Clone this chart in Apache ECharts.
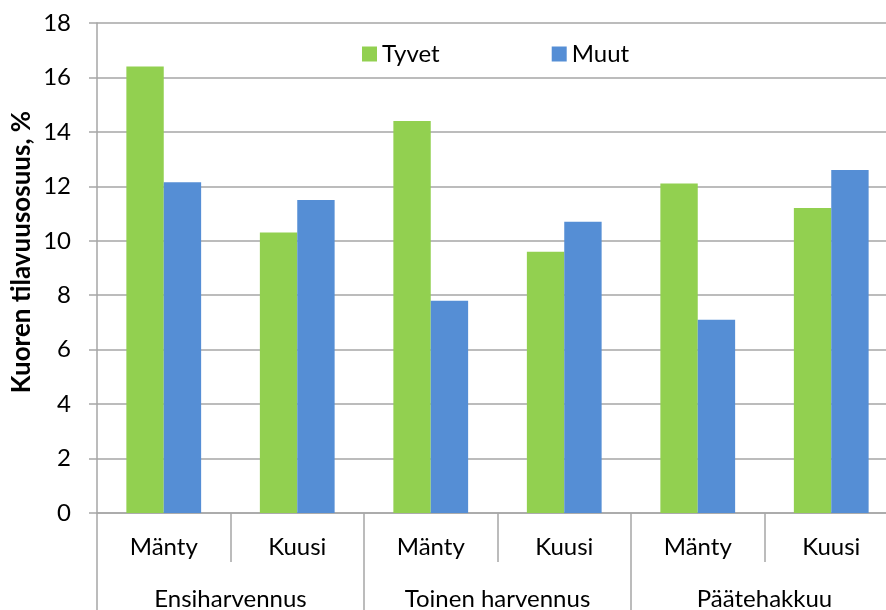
<!DOCTYPE html>
<html>
<head>
<meta charset="utf-8">
<script src="https://cdn.jsdelivr.net/npm/echarts@6/dist/echarts.min.js"></script>
<style>
  html, body { margin: 0; padding: 0; background: #fff; }
  #chart { width: 886px; height: 610px; }
</style>
</head>
<body>
<div id="chart"></div>
<script>
var subCategories = ['Mänty', 'Kuusi', 'Mänty', 'Kuusi', 'Mänty', 'Kuusi'];
var groups = ['Ensiharvennus', 'Toinen harvennus', 'Päätehakkuu'];
var tyvet = [16.4, 10.3, 14.4, 9.6, 12.1, 11.2];
var muut = [12.15, 11.5, 7.8, 10.7, 7.1, 12.6];
var yTicks = [0, 18, 2]; // min, max, step

var font = 'Lato, "Open Sans", sans-serif';
var gridColor = '#a6a6a6';
var fs = 24;

var chart = echarts.init(document.getElementById('chart'));

var option = {
    backgroundColor: '#fff',
    animation: false,
    textStyle: { fontFamily: font },
    grid: {
        left: 97,
        top: 23,
        right: -12,
        bottom: 97,
        containLabel: false,
        outerBoundsMode: 'none'
    },
    legend: {
        left: 357,
        top: 37,
        icon: 'rect',
        itemWidth: 15,
        itemHeight: 15,
        itemGap: 112,
        textStyle: { fontSize: fs, color: '#000', fontFamily: font },
        data: ['Tyvet', 'Muut']
    },
    graphic: [{
        type: 'text',
        x: 22,
        y: 252,
        rotation: Math.PI / 2,
        style: {
            text: 'Kuoren tilavuusosuus, %',
            fontSize: 26,
            fontWeight: 'bold',
            fontFamily: font,
            fill: '#000',
            textAlign: 'center',
            textVerticalAlign: 'middle'
        }
    }],
    xAxis: [{
        type: 'category',
        data: subCategories,
        position: 'bottom',
        axisLine: { show: true, lineStyle: { color: gridColor, width: 1.5 } },
        axisTick: {
            show: true,
            interval: 0,
            length: 49,
            lineStyle: { color: gridColor, width: 1.5 }
        },
        axisLabel: {
            interval: 0,
            margin: 22,
            fontSize: fs,
            color: '#000',
            fontFamily: font
        }
    }, {
        type: 'category',
        data: groups,
        position: 'bottom',
        axisLine: { show: false },
        axisTick: {
            show: true,
            interval: 0,
            length: 100,
            lineStyle: { color: gridColor, width: 1.5 }
        },
        axisLabel: {
            interval: 0,
            margin: 74,
            fontSize: fs,
            color: '#000',
            fontFamily: font
        }
    }],
    yAxis: {
        type: 'value',
        min: yTicks[0],
        max: yTicks[1],
        interval: yTicks[2],
        axisLine: { show: true, lineStyle: { color: gridColor, width: 1.5 } },
        axisTick: { show: true, length: 8, lineStyle: { color: gridColor, width: 1.5 } },
        splitLine: { show: true, lineStyle: { color: gridColor, width: 1.5 } },
        axisLabel: {
            margin: 26,
            fontSize: fs,
            color: '#000',
            fontFamily: font
        }
    },
    series: [{
        name: 'Tyvet',
        type: 'bar',
        xAxisIndex: 0,
        data: tyvet,
        barGap: '0%',
        barCategoryGap: '44%',
        itemStyle: { color: '#92d050' }
    }, {
        name: 'Muut',
        type: 'bar',
        xAxisIndex: 0,
        data: muut,
        barGap: '0%',
        barCategoryGap: '44%',
        itemStyle: { color: '#558ed5' }
    }]
};

chart.setOption(option);
</script>
</body>
</html>
